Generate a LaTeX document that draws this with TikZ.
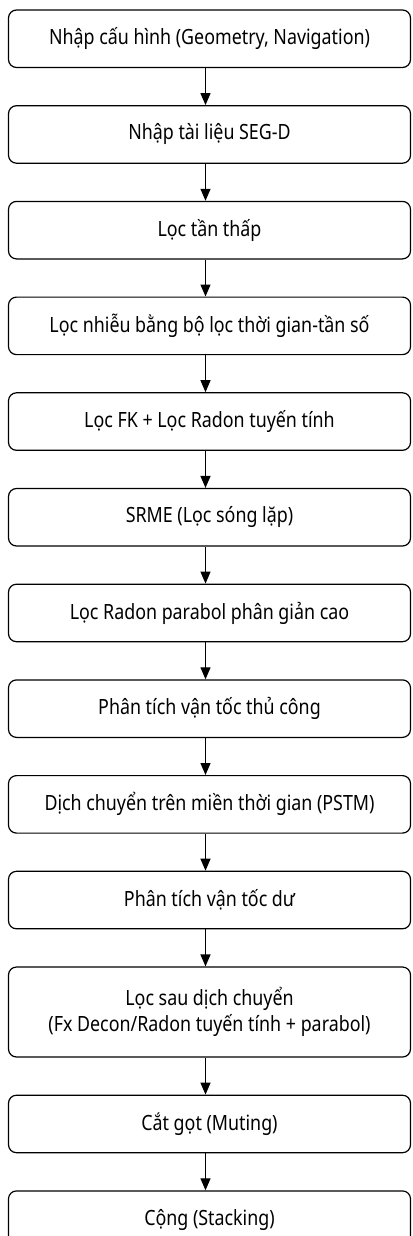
\documentclass[tikz,border=0pt]{standalone}
\usepackage{fontspec}
\setmainfont{Noto Sans}[FakeStretch=0.85]
\usetikzlibrary{positioning,arrows.meta}

\begin{document}
\begin{tikzpicture}[x=1pt,y=1pt,>={Triangle[length=12pt,width=10pt]},auto,node distance=37pt,
  line width=1.2pt,proc node/.style={draw,rounded corners=8pt,minimum width=402pt,minimum height=57.5pt,
  inner sep=0pt,align=center,font=\fontsize{21}{26}\selectfont}]

  \useasboundingbox (0,0) rectangle (412,-1236);

  \node[proc node] (1) at (209.5,-38.75) {Nhập cấu hình (Geometry, Navigation)};
  \node[proc node] (2) [below=of 1] {Nhập tài liệu SEG-D};
  \node[proc node] (3) [below=of 2] {Lọc tần thấp};
  \node[proc node] (4) [below=of 3] {Lọc nhiễu bằng bộ lọc thời gian-tần số};
  \node[proc node] (5) [below=of 4] {Lọc FK + Lọc Radon tuyến tính};
  \node[proc node] (6) [below=of 5] {SRME (Lọc sóng lặp)};
  \node[proc node] (7) [below=of 6] {Lọc Radon parabol phân giản cao};
  \node[proc node] (8) [below=of 7] {Phân tích vận tốc thủ công};
  \node[proc node] (9) [below=of 8] {Dịch chuyển trên miền thời gian (PSTM)};
  \node[proc node] (10) [below=of 9] {Phân tích vận tốc dư};
  \node[proc node] (11) [minimum height=90pt, below=of 10] {Lọc sau dịch chuyển\\(Fx Decon/Radon tuyến tính + parabol)};
  \node[proc node] (12) [below=of 11] {Cắt gọt (Muting)};
  \node[proc node] (13) [below=of 12] {Cộng (Stacking)};

\foreach \a/\b in {1/2,2/3,3/4,4/5,5/6,6/7,7/8,8/9,9/10,10/11,11/12,12/13}
  \draw [->] ([xshift=-4pt]\a.south) -- ([xshift=-4pt]\b.north);

\end{tikzpicture}
\end{document}
